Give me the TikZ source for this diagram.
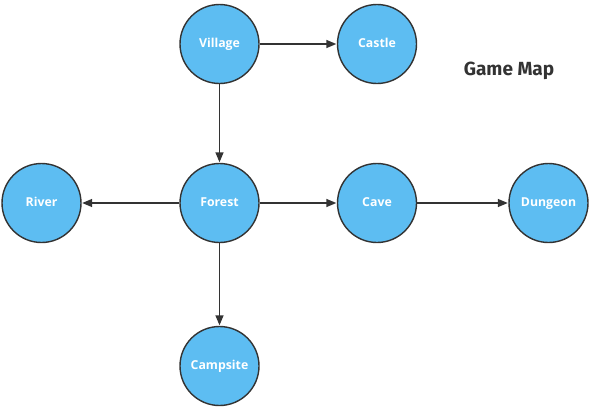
\documentclass[tikz,border=0pt]{standalone}
\usepackage{fontspec}
\setmainfont{Open Sans}
\newfontfamily\titlefont{Fira Sans}
\usetikzlibrary{arrows.meta}
\definecolor{placefill}{HTML}{5DBDF2}
\definecolor{inkgray}{HTML}{333333}
\begin{document}
\begin{tikzpicture}[x=1pt,y=-1pt,
  place/.style={circle, draw=inkgray, line width=1.4pt, fill=placefill,
    minimum size=79pt, inner sep=0pt, text=white,
    text height=9pt, text depth=2.7pt,
    font=\fontsize{12.3}{14}\selectfont\bfseries},
  link/.style={draw=inkgray, line width=1.4pt,
    -{Triangle[length=10pt,width=8pt]}, shorten >=0.5pt}]
\useasboundingbox (0,0) rectangle (591,413);
\node[place] (village)  at (219.5,44)  {Village};
\node[place] (castle)   at (377,44)    {Castle};
\node[place] (river)    at (41.5,203)  {River};
\node[place] (forest)   at (219.5,203) {Forest};
\node[place] (cave)     at (377,203)   {Cave};
\node[place] (dungeon)  at (548.5,203) {Dungeon};
\node[place] (campsite) at (219.5,366) {Campsite};
\node[text=inkgray, font=\titlefont\fontsize{19}{22}\selectfont\bfseries] (title) at (509,71) {Game Map};
\draw[link] (village) -- (castle);
\draw[link] (village) -- (forest);
\draw[link] (forest) -- (river);
\draw[link] (forest) -- (cave);
\draw[link] (cave) -- (dungeon);
\draw[link] (forest) -- (campsite);
\end{tikzpicture}
\end{document}
